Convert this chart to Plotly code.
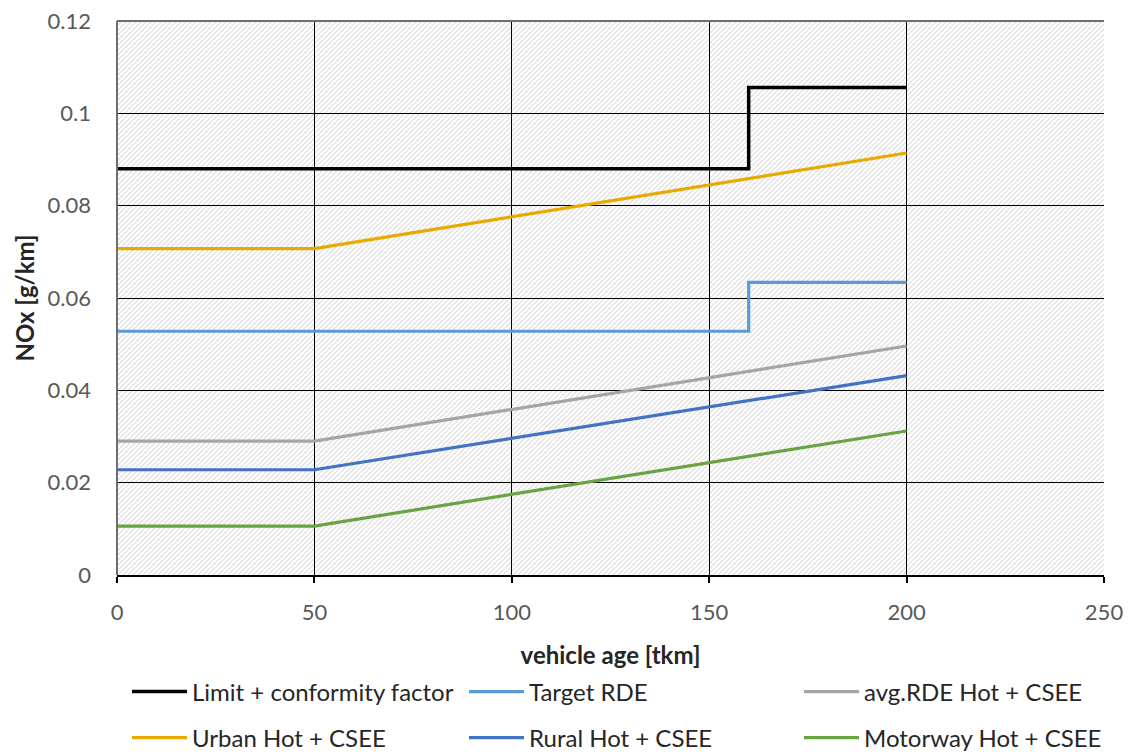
import base64
import plotly.graph_objects as go

# vehicle age [tkm]
age_lin = [0, 50, 200]
age_step = [0, 160, 160, 200]

# NOx [g/km]
limit_cf = [0.088, 0.088, 0.1056, 0.1056]
target_rde = [0.0528, 0.0528, 0.0634, 0.0634]
avg_rde = [0.0290, 0.0290, 0.0496]
urban = [0.0707, 0.0707, 0.0914]
rural = [0.0228, 0.0228, 0.0432]
motorway = [0.0106, 0.0106, 0.0312]

x_range = [0, 250]
y_range = [0, 0.12]

FONT = "Lato"
TICK_COLOR = "#595959"

W, H = 1130, 753
M_L, M_R, M_T, M_B = 117, 26, 21, 178
PW, PH = W - M_L - M_R, H - M_T - M_B

# diagonal hatch for the plot background, placed under the gridlines
hatch_svg = (
    f'<svg xmlns="http://www.w3.org/2000/svg" width="{PW}" height="{PH}">'
    '<defs><pattern id="h" patternUnits="userSpaceOnUse" width="5" height="5">'
    '<path d="M-1,1 L1,-1 M0,5 L5,0 M4,6 L6,4" stroke="#dcdcdc" stroke-width="1.2"/>'
    '</pattern></defs>'
    f'<rect width="{PW}" height="{PH}" fill="white"/>'
    f'<rect width="{PW}" height="{PH}" fill="url(#h)"/></svg>'
)
hatch_uri = "data:image/svg+xml;base64," + base64.b64encode(hatch_svg.encode()).decode()

# legend slots: (column left edge px, row centre px)
legend_slots = [(127, 692), (464, 692), (799, 692),
                (127, 738), (464, 738), (799, 738)]

fig = go.Figure()

series = [
    ("Limit + conformity factor", age_step, limit_cf, "#000000", 3.5),
    ("Target RDE", age_step, target_rde, "#5B9BD5", 3.2),
    ("avg.RDE Hot + CSEE", age_lin, avg_rde, "#A5A5A5", 3.2),
    ("Urban Hot + CSEE", age_lin, urban, "#E8AA00", 3.2),
    ("Rural Hot + CSEE", age_lin, rural, "#4472C4", 3.2),
    ("Motorway Hot + CSEE", age_lin, motorway, "#6AA344", 3.2),
]
legend_layout = {}
for i, (name, xs, ys, color, w) in enumerate(series):
    key = "legend" if i == 0 else f"legend{i + 1}"
    fig.add_trace(go.Scatter(x=xs, y=ys, mode="lines", name=name, showlegend=True,
                             line=dict(color=color, width=w), legend=key))
    lx, ly = legend_slots[i]
    legend_layout[key] = dict(
        x=lx / W, y=1 - ly / H, xanchor="left", yanchor="middle",
        xref="container", yref="container", orientation="h",
        font=dict(family=FONT, size=24, color="#262626"),
        itemwidth=55, bgcolor="rgba(0,0,0,0)",
    )

fig.update_layout(
    width=W, height=H, showlegend=True,
    margin=dict(l=M_L, r=M_R, t=M_T, b=M_B, autoexpand=False),
    paper_bgcolor="white", plot_bgcolor="rgba(0,0,0,0)",
    font=dict(family=FONT, size=22, color=TICK_COLOR),
    xaxis=dict(
        range=x_range, dtick=50, tick0=0,
        showgrid=True, gridcolor="#000000", gridwidth=1,
        showline=True, linecolor="#000000", linewidth=2,
        ticks="outside", ticklen=6, tickwidth=2, tickcolor="#000000",
        ticklabelstandoff=11, zeroline=False,
        tickfont=dict(family=FONT, size=22, color=TICK_COLOR),
        title=dict(text="<b>vehicle age [tkm]</b>", standoff=32,
                   font=dict(family=FONT, size=24, color="#262626")),
    ),
    yaxis=dict(
        range=y_range, dtick=0.02, tick0=0,
        showgrid=True, gridcolor="#000000", gridwidth=1,
        showline=False, zeroline=False,
        ticks="", ticklabelstandoff=25,
        tickfont=dict(family=FONT, size=22, color=TICK_COLOR),
        title=dict(text="<b>NOx [g/km]</b>", standoff=6,
                   font=dict(family=FONT, size=24, color="#262626")),
    ),
    images=[dict(source=hatch_uri, xref="x", yref="y",
                 x=x_range[0], y=y_range[1],
                 sizex=x_range[1] - x_range[0], sizey=y_range[1] - y_range[0],
                 sizing="stretch", layer="below")],
    shapes=[
        dict(type="line", xref="paper", yref="paper", x0=0, x1=1, y0=1, y1=1,
             line=dict(color="#6f6f6f", width=2), layer="above"),
        dict(type="line", xref="paper", yref="paper", x0=0, x1=0, y0=0, y1=1,
             line=dict(color="#6f6f6f", width=2), layer="above"),
    ],
    **legend_layout,
)

fig.write_html("out.html")
